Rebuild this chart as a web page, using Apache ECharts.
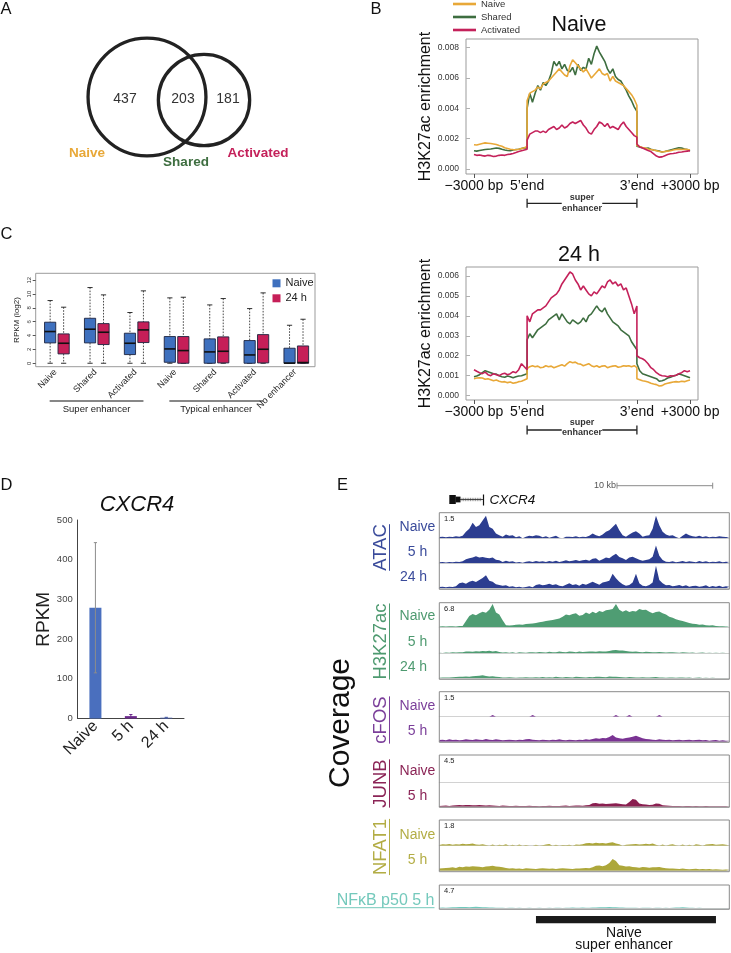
<!DOCTYPE html>
<html>
<head>
<meta charset="utf-8">
<script src="https://cdn.jsdelivr.net/npm/echarts@6/dist/echarts.min.js"></script>
<style>
html,body{margin:0;padding:0;background:#ffffff;}
#chart{width:731px;height:953px;}
</style>
</head>
<body>
<div id="chart"></div>
<script>
// ================= DATA =================
// Panel A – Venn
const vennSets = ['Naive', 'Shared', 'Activated'];
const vennCounts = [437, 203, 181];

// Panel B – H3K27ac metaprofiles; each series: [5' flank, super-enhancer body, 3' flank]
const bSeriesNames = ['Naive', 'Shared', 'Activated'];
const bTickLabels = ['\u22123000 bp', '5\u2019end', '3\u2019end', '+3000 bp'];
const bTopNaive = [
  [0.00160,0.00158,0.00163,0.00168,0.00172,0.00170,0.00168,0.00165,0.00162,0.00155,0.00150,0.00140,0.00135,0.00130,0.00128,0.00127,0.00130,0.00135,0.00140,0.00148],
  [0.0045,0.0050,0.0051,0.0052,0.0054,0.0053,0.0056,0.0057,0.0058,0.0060,0.0062,0.0064,0.0066,0.0064,0.0062,0.0061,0.0068,0.0072,0.0070,0.0068,0.0066,0.0064,0.0066,0.0063,0.0060,0.0062,0.0064,0.0066,0.0063,0.0062,0.0063,0.0058,0.0061,0.0058,0.0057,0.0056,0.0055,0.0053,0.0051,0.0049,0.0046,0.0042],
  [0.00155,0.00148,0.00142,0.00138,0.00132,0.00128,0.00125,0.00120,0.00115,0.00112,0.00115,0.00118,0.00120,0.00125,0.00128,0.00130,0.00128,0.00130,0.00128,0.00125]
];
const bTopShared = [
  [0.00120,0.00118,0.00122,0.00125,0.00128,0.00130,0.00132,0.00135,0.00138,0.00136,0.00130,0.00125,0.00122,0.00120,0.00125,0.00128,0.00130,0.00135,0.00140,0.00138],
  [0.0040,0.0050,0.0044,0.0050,0.0055,0.0052,0.0057,0.0055,0.0058,0.0063,0.0071,0.0068,0.0071,0.0066,0.0069,0.0065,0.0064,0.0067,0.0062,0.0069,0.0065,0.0067,0.0066,0.0073,0.0069,0.0076,0.0081,0.0077,0.0074,0.0071,0.0066,0.0063,0.0066,0.0061,0.0059,0.0058,0.0055,0.0052,0.0048,0.0045,0.0041,0.0038],
  [0.00150,0.00145,0.00140,0.00135,0.00138,0.00130,0.00125,0.00122,0.00118,0.00112,0.00115,0.00120,0.00125,0.00130,0.00135,0.00140,0.00138,0.00132,0.00128,0.00120]
];
const bTopActivated = [
  [0.00095,0.00090,0.00092,0.00088,0.00085,0.00090,0.00088,0.00082,0.00085,0.00090,0.00092,0.00090,0.00095,0.00098,0.00102,0.00108,0.00115,0.00120,0.00125,0.00130],
  [0.0019,0.0023,0.0024,0.0025,0.0025,0.0024,0.0025,0.0024,0.0026,0.0027,0.0028,0.0026,0.0027,0.0029,0.0027,0.0028,0.0030,0.0031,0.0030,0.0031,0.0032,0.0029,0.0027,0.0024,0.0023,0.0026,0.0028,0.0031,0.0030,0.0028,0.0030,0.0027,0.0028,0.0027,0.0026,0.0029,0.0031,0.0028,0.0026,0.0024,0.0022,0.0021],
  [0.00165,0.00145,0.00138,0.00130,0.00122,0.00115,0.00100,0.00085,0.00078,0.00080,0.00088,0.00095,0.00100,0.00102,0.00105,0.00110,0.00112,0.00115,0.00118,0.00120]
];
const bBotNaive = [
  [0.00085,0.00088,0.00090,0.00088,0.00082,0.00085,0.00080,0.00075,0.00078,0.00072,0.00068,0.00070,0.00065,0.00068,0.00062,0.00065,0.00070,0.00072,0.00078,0.00085],
  [0.00135,0.00145,0.00150,0.00145,0.00148,0.00140,0.00142,0.00150,0.00145,0.00148,0.00140,0.00145,0.00150,0.00155,0.00148,0.00160,0.00170,0.00165,0.00168,0.00160,0.00158,0.00150,0.00155,0.00160,0.00150,0.00145,0.00150,0.00142,0.00148,0.00150,0.00140,0.00145,0.00148,0.00150,0.00142,0.00145,0.00150,0.00148,0.00150,0.00145,0.00150,0.00140],
  [0.00085,0.00080,0.00075,0.00072,0.00068,0.00062,0.00058,0.00055,0.00048,0.00050,0.00058,0.00062,0.00065,0.00068,0.00070,0.00068,0.00072,0.00070,0.00075,0.00078]
];
const bBotShared = [
  [0.00095,0.00098,0.00105,0.00115,0.00125,0.00120,0.00115,0.00110,0.00108,0.00100,0.00095,0.00092,0.00098,0.00095,0.00090,0.00095,0.00098,0.00100,0.00105,0.00110],
  [0.0028,0.0031,0.0029,0.0031,0.0033,0.0034,0.0035,0.0036,0.0038,0.0039,0.0040,0.0041,0.0038,0.0041,0.0039,0.0037,0.0036,0.0038,0.0037,0.0036,0.0037,0.0039,0.0037,0.0040,0.0041,0.0043,0.0045,0.0043,0.0042,0.0044,0.0041,0.0039,0.0037,0.0036,0.0035,0.0033,0.0032,0.0031,0.0030,0.0027,0.0025,0.0023],
  [0.00160,0.00125,0.00110,0.00105,0.00100,0.00095,0.00090,0.00085,0.00072,0.00075,0.00080,0.00088,0.00092,0.00098,0.00102,0.00108,0.00105,0.00100,0.00095,0.00090]
];
const bBotActivated = [
  [0.00130,0.00122,0.00115,0.00110,0.00118,0.00105,0.00100,0.00110,0.00105,0.00100,0.00108,0.00112,0.00105,0.00110,0.00120,0.00115,0.00130,0.00160,0.00145,0.00130],
  [0.0040,0.0037,0.0041,0.0042,0.0043,0.0043,0.0044,0.0045,0.0047,0.0049,0.0050,0.0051,0.0053,0.0056,0.0058,0.0060,0.0062,0.0061,0.0058,0.0056,0.0053,0.0055,0.0053,0.0051,0.0050,0.0052,0.0051,0.0053,0.0055,0.0054,0.0057,0.0058,0.0056,0.0057,0.0055,0.0056,0.0053,0.0054,0.0050,0.0046,0.0041,0.0045],
  [0.00200,0.00190,0.00185,0.00175,0.00160,0.00140,0.00130,0.00115,0.00105,0.00100,0.00098,0.00095,0.00100,0.00098,0.00102,0.00110,0.00115,0.00125,0.00120,0.00125]
];

// Panel C – boxplots [min, Q1, median, Q3, max] of RPKM (log2)
const cCategories = ['Naive', 'Shared', 'Activated', 'Naive', 'Shared', 'Activated', 'No enhancer'];
const cGroupLabels = ['Super enhancer', 'Typical enhancer'];
const cSeriesNames = ['Naive', '24 h'];
const cBoxNaive = [[0,2.94,4.58,5.93,9.06],[0,2.94,4.92,6.50,10.94],[0,1.25,2.89,4.34,7.33],[0,0.14,2.07,3.86,9.45],[0,0,1.64,3.52,8.43],[0,0,1.20,3.28,7.90],[0,0,0.02,2.17,5.49]];
const cBox24h  = [[0,1.35,2.89,4.24,8.10],[0,2.70,4.48,5.73,9.88],[0,2.99,4.82,5.98,10.46],[0,0,1.83,3.86,9.54],[0,0.05,1.73,3.81,9.35],[0,0.05,2.02,4.14,10.17],[0,0,0.10,2.50,6.36]];
const cYTicks = [0, 2, 4, 6, 8, 10, 12];

// Panel D – CXCR4 RPKM
const dCategories = ['Naive', '5 h', '24 h'];
const dRpkm = [279, 6, 2];
const dRpkmErr = [164, 4, 1];

// Panel E – coverage tracks (88 bins across the locus)
const atacNaive = [0.08,0.10,0.06,0.10,0.08,0.12,0.10,0.16,0.39,0.58,0.94,0.68,0.78,1.07,1.36,0.68,0.58,0.29,0.19,0.10,0.23,0.16,0.19,0.06,0.12,0,0.10,0.16,0.12,0.19,0.16,0.06,0.12,0.04,0.10,0.16,0.04,0,0.10,0.10,0.08,0.12,0.06,0.10,0.08,0.16,0.29,0.19,0.12,0.23,0.39,0.49,0.68,0.88,0.49,0.19,0.10,0.23,0.35,0.43,0.29,0.10,0.16,0.19,0.58,1.36,0.78,0.39,0.23,0.16,0.19,0.08,0,0.16,0.29,0.19,0.12,0.10,0.16,0.08,0.12,0.06,0.10,0.08,0.12,0.10,0.08,0.06];
const atac5h = [0.06,0.08,0.05,0.08,0.06,0.10,0.08,0.12,0.25,0.30,0.35,0.42,0.35,0.38,0.33,0.30,0.35,0.22,0.18,0.08,0.15,0.10,0.12,0.05,0.08,0.04,0.10,0.12,0.08,0.14,0.10,0.12,0.08,0.14,0.10,0.16,0.08,0.12,0.18,0.12,0.15,0.20,0.14,0.18,0.22,0.16,0.28,0.30,0.15,0.25,0.35,0.30,0.45,0.58,0.38,0.30,0.20,0.35,0.40,0.30,0.22,0.15,0.20,0.25,0.40,1.07,0.45,0.20,0.10,0.08,0.12,0.06,0.10,0.14,0.08,0.12,0.10,0.06,0.14,0.08,0.12,0.06,0.10,0.08,0.12,0.06,0.10,0.08];
const atac24h = [0.08,0.10,0.06,0.10,0.08,0.12,0.30,0.35,0.28,0.40,0.45,0.38,0.50,0.62,0.78,0.45,0.40,0.25,0.20,0.15,0.18,0.10,0.12,0.06,0.10,0.05,0.08,0.12,0.06,0.20,0.25,0.18,0.22,0.28,0.20,0.25,0.15,0.12,0.22,0.30,0.20,0.25,0.15,0.28,0.22,0.30,0.40,0.30,0.22,0.35,0.40,0.45,0.88,0.60,0.40,0.25,0.15,0.20,0.35,0.88,0.30,0.15,0.12,0.20,0.35,1.36,0.50,0.30,0.18,0.20,0.12,0.15,0.20,0.12,0.18,0.10,0.14,0.16,0.10,0.12,0.18,0.08,0.14,0.10,0.16,0.08,0.12,0.10];
const h3k27Naive = [0.25,0.30,0.25,0.28,0.30,0.25,0.35,0.40,1.8,3.2,3.8,3.4,4.0,4.4,4.1,5.0,6.6,4.2,3.6,2.0,0.6,0.5,0.6,0.7,0.8,0.7,0.9,1.0,1.1,1.2,1.4,1.6,1.8,1.9,2.1,2.3,2.5,3.0,3.6,3.4,3.8,4.0,3.3,3.5,4.2,3.8,4.4,4.0,4.6,4.3,4.8,5.0,5.2,6.6,5.0,4.4,4.8,4.3,4.6,4.5,5.2,4.9,5.0,4.4,4.0,4.3,4.5,4.0,3.6,3.0,2.7,2.3,2.0,1.8,1.5,1.2,1.0,0.9,0.7,0.8,0.6,0.5,0.6,0.4,0.3,0.3,0.25,0.2];
const h3k27_5h = [0.15,0.10,0.20,0.15,0.25,0.20,0.30,0.25,0.45,0.50,0.40,0.55,0.50,0.60,0.55,0.65,0.50,0.60,0.35,0.20,0.25,0.15,0.30,0.10,0.25,0.20,0.15,0.30,0.25,0.20,0.35,0.30,0.20,0.40,0.30,0.25,0.45,0.35,0.30,0.50,0.40,0.30,0.45,0.35,0.40,0.50,0.45,0.40,0.55,0.50,0.45,0.60,0.80,0.85,0.75,0.70,0.60,0.50,0.40,0.45,0.35,0.30,0.40,0.35,0.30,0.25,0.35,0.30,0.20,0.25,0.30,0.20,0.15,0.25,0.20,0.15,0.20,0.10,0.15,0.20,0.10,0.15,0.10,0.12,0.10,0.15,0.10,0.08];
const h3k27_24h = [0.15,0.20,0.25,0.20,0.30,0.35,0.40,0.45,0.50,0.45,0.55,0.60,0.70,0.80,0.60,0.50,0.55,0.40,0.35,0.25,0.20,0.30,0.25,0.15,0.20,0.25,0.30,0.20,0.25,0.30,0.20,0.35,0.25,0.30,0.20,0.40,0.30,0.25,0.35,0.30,0.25,0.40,0.35,0.30,0.25,0.35,0.30,0.40,0.45,0.35,0.30,0.50,0.45,0.40,0.35,0.30,0.25,0.35,0.30,0.25,0.20,0.30,0.25,0.20,0.30,0.35,0.25,0.20,0.15,0.25,0.20,0.15,0.20,0.25,0.15,0.20,0.10,0.15,0.20,0.10,0.15,0.10,0.12,0.10,0.08,0.10,0.08,0.06];
const cfosNaive = [0,0,0,0,0,0,0,0,0,0,0,0,0,0,0,0,0.1,0,0,0,0,0,0,0,0,0,0,0,0.1,0,0,0,0,0,0,0,0,0,0,0,0,0,0,0,0,0,0,0,0,0,0,0,0,0.1,0,0,0,0.1,0,0,0,0,0,0,0,0,0.1,0,0,0,0,0,0,0,0,0,0,0,0,0,0,0,0,0,0,0,0,0];
const cfos5h = [0.10,0.12,0.08,0.14,0.10,0.12,0.08,0.10,0.14,0.12,0.10,0.14,0.12,0.10,0.16,0.12,0.10,0.14,0.12,0.08,0.10,0.12,0.10,0.08,0.12,0.10,0.14,0.16,0.12,0.10,0.08,0.12,0.10,0.08,0.12,0.10,0.14,0.10,0.08,0.12,0.10,0.08,0.12,0.10,0.14,0.12,0.16,0.20,0.18,0.22,0.20,0.28,0.40,0.25,0.20,0.18,0.22,0.25,0.30,0.36,0.28,0.20,0.16,0.14,0.12,0.10,0.14,0.12,0.10,0.12,0.08,0.10,0.12,0.08,0.10,0.12,0.08,0.10,0.12,0.08,0.10,0.06,0.08,0.10,0.06,0.08,0.06,0.05];
const junbNaive = [0,0,0,0,0,0,0,0,0,0,0,0,0,0,0,0,0,0,0,0,0,0,0,0,0,0,0,0,0,0,0,0,0,0,0,0,0,0,0,0,0,0,0,0,0,0,0,0,0,0,0,0,0,0,0,0,0,0,0,0,0,0,0,0,0,0,0,0,0,0,0,0,0,0,0,0,0,0,0,0,0,0,0,0,0,0,0,0];
const junb5h = [0.15,0.18,0.20,0.15,0.22,0.25,0.30,0.28,0.32,0.30,0.28,0.25,0.30,0.28,0.22,0.25,0.20,0.18,0.15,0.20,0.18,0.15,0.12,0.18,0.15,0.12,0.15,0.18,0.12,0.15,0.10,0.15,0.12,0.18,0.15,0.12,0.15,0.18,0.20,0.15,0.18,0.20,0.22,0.18,0.25,0.30,0.65,0.70,0.55,0.60,0.50,0.55,0.60,0.65,0.55,0.45,0.40,0.85,1.40,1.30,0.60,0.45,0.40,0.30,0.35,0.60,0.55,0.25,0.20,0.18,0.15,0.12,0.15,0.10,0.12,0.15,0.10,0.12,0.08,0.10,0.12,0.08,0.10,0.08,0.06,0.08,0.06,0.05];
const nfatNaive = [0.05,0.10,0.08,0.12,0.06,0.10,0.08,0.14,0.10,0.12,0.16,0.08,0.06,0.10,0.05,0.00,0.08,0.00,0.06,0.04,0.10,0.00,0.06,0.00,0.08,0.00,0.05,0.00,0.00,0.06,0.00,0.04,0.08,0.12,0.00,0.06,0.00,0.05,0.04,0.06,0.00,0.08,0.06,0.10,0.18,0.20,0.16,0.22,0.18,0.20,0.16,0.22,0.24,0.16,0.10,0.00,0.06,0.08,0.10,0.12,0.08,0.10,0.14,0.10,0.16,0.06,0.00,0.08,0.00,0.06,0.10,0.04,0.00,0.08,0.00,0.06,0.00,0.10,0.06,0.00,0.08,0.10,0.12,0.06,0.08,0.10,0.06,0.04];
const nfat5h = [0.15,0.18,0.20,0.22,0.25,0.20,0.28,0.25,0.30,0.28,0.32,0.30,0.28,0.25,0.30,0.32,0.36,0.30,0.28,0.25,0.20,0.16,0.18,0.14,0.16,0.12,0.18,0.15,0.14,0.12,0.16,0.18,0.15,0.14,0.16,0.12,0.15,0.18,0.16,0.14,0.12,0.16,0.15,0.18,0.20,0.18,0.24,0.35,0.38,0.32,0.40,0.55,0.84,0.70,0.40,0.35,0.30,0.32,0.26,0.24,0.22,0.26,0.24,0.22,0.25,0.24,0.26,0.22,0.18,0.16,0.15,0.14,0.12,0.15,0.12,0.10,0.12,0.14,0.10,0.12,0.10,0.12,0.08,0.10,0.08,0.06,0.08,0.06];
const nfkb5h = [0.10,0.15,0.12,0.18,0.20,0.22,0.25,0.28,0.25,0.22,0.28,0.30,0.25,0.22,0.20,0.18,0.15,0.12,0.10,0.12,0.08,0.10,0.12,0.08,0.10,0.06,0.08,0.10,0.06,0.08,0.10,0.08,0.06,0.10,0.08,0.12,0.10,0.08,0.12,0.10,0.14,0.12,0.10,0.14,0.12,0.10,0.15,0.18,0.20,0.22,0.20,0.25,0.22,0.20,0.18,0.15,0.12,0.10,0.12,0.10,0.08,0.10,0.12,0.10,0.08,0.10,0.12,0.08,0.10,0.08,0.12,0.15,0.18,0.20,0.15,0.12,0.10,0.08,0.10,0.06,0.08,0.06,0.05,0.06,0.05,0.04,0.05,0.04];
const eTrackNames = ['ATAC', 'H3K27ac', 'cFOS', 'JUNB', 'NFAT1', 'NF\u03baB p50 5 h'];
const eTrackScales = [1.5, 6.8, 1.5, 4.5, 1.8, 4.7];
const eSuperEnhancerBins = [29, 83];

// ================= STYLE / LAYOUT =================
const FONT = '"Liberation Sans", Arial, Helvetica, sans-serif';
const B_COLORS = ['#E8A838', '#3E6E40', '#C4215A'];
const C_COLORS = ['#3E70BE', '#C61F58'];
const D_COLORS = ['#4A6FBE', '#6C2A8C', '#4B5EA6'];
const D_ERR_COLORS = ['#8c8c8c', '#6C2A8C', '#4B5EA6'];
const SE_LEN = 6200;

const grid = [], xAxis = [], yAxis = [], series = [];

// ---- Panel B ----
const bTickValues = [-3000, 0, SE_LEN, SE_LEN + 3000];
function bPoints(segs) {
  const out = [];
  segs.forEach((seg, si) => {
    const n = seg.length;
    seg.forEach((v, i) => {
      let x;
      if (si === 0) x = -3000 + 3000 * i / (n - 1);
      else if (si === 1) x = SE_LEN * i / (n - 1);
      else x = SE_LEN + 3000 * i / (n - 1);
      out.push([x, v]);
    });
  });
  return out;
}
const bPanels = [
  {title: 'Naive', top: 39, height: 135, yMin: -0.00033, yMax: 0.00857, ticks: [0, 0.002, 0.004, 0.006, 0.008], lines: [bTopNaive, bTopShared, bTopActivated], titleY: 25, brY: 203.3, superY: 197.7, enhY: 209},
  {title: '24 h', top: 267, height: 133, yMin: -0.00022, yMax: 0.00645, ticks: [0, 0.001, 0.002, 0.003, 0.004, 0.005, 0.006], lines: [bBotNaive, bBotShared, bBotActivated], titleY: 255, brY: 430, superY: 423, enhY: 432.5}
];
bPanels.forEach(p => {
  const gi = grid.length;
  p.gi = gi;
  grid.push({left: 466, top: p.top, width: 232, height: p.height, show: true, borderColor: '#9b9b9b', borderWidth: 1, backgroundColor: 'transparent'});
  xAxis.push({gridIndex: gi, type: 'value', min: -3450, max: SE_LEN + 3450, axisLine: {show: false, onZero: false}, splitLine: {show: false},
    axisTick: {show: true, customValues: bTickValues, length: 4, lineStyle: {color: '#555'}},
    axisLabel: {customValues: bTickValues, formatter: v => bTickLabels[bTickValues.indexOf(v)], fontSize: 14, color: '#111', margin: 5, fontFamily: FONT}});
  yAxis.push({gridIndex: gi, type: 'value', min: p.yMin, max: p.yMax, axisLine: {show: false, onZero: false}, splitLine: {show: false},
    axisTick: {show: true, inside: true, length: 4, customValues: p.ticks, lineStyle: {color: '#b0b0b0'}},
    axisLabel: {customValues: p.ticks, formatter: v => v.toFixed(3), fontSize: 8.5, color: '#333', margin: 7, fontFamily: FONT},
    name: 'H3K27ac enrichment', nameLocation: 'middle', nameGap: 28, nameTextStyle: {fontSize: 16, color: '#111', fontFamily: FONT}});
  [1, 0, 2].forEach(k => {
    series.push({type: 'line', name: bSeriesNames[k], xAxisIndex: gi, yAxisIndex: gi, data: bPoints(p.lines[k]), symbol: 'none', silent: true,
      lineStyle: {width: 1.6, color: B_COLORS[k]}, itemStyle: {color: B_COLORS[k]}});
  });
});

// ---- Panel C ----
const cGi = grid.length;
grid.push({left: 35.7, top: 273.3, width: 279.3, height: 93.4, show: true, borderColor: '#9b9b9b', borderWidth: 1, backgroundColor: 'transparent'});
xAxis.push({gridIndex: cGi, type: 'category', data: cCategories, axisLine: {show: false, onZero: false}, axisTick: {show: false},
  axisLabel: {interval: 0, rotate: 45, fontSize: 9, color: '#222', margin: 4, fontFamily: FONT}});
yAxis.push({gridIndex: cGi, type: 'value', min: -0.5, max: 13, axisLine: {show: false, onZero: false}, splitLine: {show: false},
  axisTick: {show: true, length: 3, customValues: cYTicks, lineStyle: {color: '#555'}},
  axisLabel: {customValues: cYTicks, rotate: 90, fontSize: 6, color: '#333', margin: 3, fontFamily: FONT},
  name: 'RPKM (log2)', nameLocation: 'middle', nameGap: 15, nameTextStyle: {fontSize: 8, color: '#222', fontFamily: FONT}});
function boxRenderer(offsetFrac) {
  return function (params, api) {
    const idx = api.value(0);
    const bw = api.size([1, 0])[0];
    const cx = api.coord([idx, 0])[0] + offsetFrac * bw;
    const y = k => api.coord([idx, api.value(k)])[1];
    const yMin = y(1), yQ1 = y(2), yMed = y(3), yQ3 = y(4), yMax = y(5);
    const half = 5.6, cap = 2.6;
    const wh = {stroke: '#1a1a1a', lineWidth: 0.8, lineDash: [1.6, 1.4]};
    const cp = {stroke: '#1a1a1a', lineWidth: 0.9};
    return {type: 'group', children: [
      {type: 'line', shape: {x1: cx, y1: yMax, x2: cx, y2: yQ3}, style: wh},
      {type: 'line', shape: {x1: cx, y1: yQ1, x2: cx, y2: yMin}, style: wh},
      {type: 'line', shape: {x1: cx - cap, y1: yMax, x2: cx + cap, y2: yMax}, style: cp},
      {type: 'line', shape: {x1: cx - cap, y1: yMin, x2: cx + cap, y2: yMin}, style: cp},
      {type: 'rect', shape: {x: cx - half, y: yQ3, width: 2 * half, height: Math.max(yQ1 - yQ3, 0.5)}, style: {fill: api.visual('color'), stroke: '#1d2440', lineWidth: 0.9}},
      {type: 'line', shape: {x1: cx - half, y1: yMed, x2: cx + half, y2: yMed}, style: {stroke: '#111', lineWidth: 1.6}}
    ]};
  };
}
[cBoxNaive, cBox24h].forEach((boxes, k) => {
  series.push({type: 'custom', name: cSeriesNames[k], xAxisIndex: cGi, yAxisIndex: cGi, silent: true,
    itemStyle: {color: C_COLORS[k]}, encode: {x: 0, y: [1, 2, 3, 4, 5]},
    data: boxes.map((b, i) => [i].concat(b)), renderItem: boxRenderer(k === 0 ? -0.138 : 0.2)});
});

// ---- Panel D ----
const dGi = grid.length;
grid.push({left: 77.7, top: 520, width: 106.3, height: 198.5});
xAxis.push({gridIndex: dGi, type: 'category', data: dCategories, axisLine: {show: true, onZero: false, lineStyle: {color: '#444', width: 1}}, axisTick: {show: false},
  axisLabel: {interval: 0, rotate: 45, fontSize: 16, color: '#222', margin: 5, fontFamily: FONT}});
yAxis.push({gridIndex: dGi, type: 'value', min: 0, max: 500, interval: 100, axisLine: {show: true, onZero: false, lineStyle: {color: '#444', width: 1}}, axisTick: {show: false}, splitLine: {show: false},
  axisLabel: {fontSize: 9.5, color: '#444', margin: 5, fontFamily: FONT},
  name: 'RPKM', nameLocation: 'middle', nameGap: 24, nameTextStyle: {fontSize: 19, color: '#222', fontFamily: FONT}});
series.push({type: 'bar', name: 'RPKM', xAxisIndex: dGi, yAxisIndex: dGi, data: dRpkm, barWidth: 12, silent: true,
  itemStyle: {color: p => D_COLORS[p.dataIndex]}});
series.push({type: 'custom', name: 'RPKM error', xAxisIndex: dGi, yAxisIndex: dGi, silent: true, z: 5, encode: {x: 0, y: [1, 2]},
  data: dRpkm.map((m, i) => [i, Math.max(0, m - dRpkmErr[i]), m + dRpkmErr[i]]),
  renderItem: (params, api) => {
    const i = api.value(0);
    const x = api.coord([i, 0])[0];
    const y1 = api.coord([i, api.value(1)])[1];
    const y2 = api.coord([i, api.value(2)])[1];
    const st = {stroke: D_ERR_COLORS[i], lineWidth: 1};
    return {type: 'group', children: [
      {type: 'line', shape: {x1: x, y1: y1, x2: x, y2: y2}, style: st},
      {type: 'line', shape: {x1: x - 1.6, y1: y2, x2: x + 1.6, y2: y2}, style: st},
      {type: 'line', shape: {x1: x - 1.6, y1: y1, x2: x + 1.6, y2: y1}, style: st}
    ]};
  }});

// ---- Panel E ----
const eStyles = [
  {color: '#2C3D90', label: '#3A4B9B'},
  {color: '#4F9D73', label: '#4E9A70'},
  {color: '#7A3393', label: '#7B3F9A'},
  {color: '#8A1F50', label: '#8B2456'},
  {color: '#ADA73A', label: '#B3AD45'},
  {color: '#6FC9BC', label: '#74C9BC'}
];
const eRows = [
  [['Naive', atacNaive], ['5 h', atac5h], ['24 h', atac24h]],
  [['Naive', h3k27Naive], ['5 h', h3k27_5h], ['24 h', h3k27_24h]],
  [['Naive', cfosNaive], ['5 h', cfos5h]],
  [['Naive', junbNaive], ['5 h', junb5h]],
  [['Naive', nfatNaive], ['5 h', nfat5h]],
  [['', nfkb5h]]
];
const eLayout = [
  {boxTop: 512.7, boxBottom: 589.3, bases: [538.3, 563.3, 588.3], nameY: 547.5},
  {boxTop: 602.7, boxBottom: 679.3, bases: [627.3, 653.3, 678.3], nameY: 641.5},
  {boxTop: 691.7, boxBottom: 742.3, bases: [716.7, 741.7], nameY: 720},
  {boxTop: 755, boxBottom: 807.3, bases: [782.3, 806.7], nameY: 783.5},
  {boxTop: 820, boxBottom: 871.7, bases: [845.7, 870.7], nameY: 847},
  {boxTop: 885, boxBottom: 909.3, bases: [908.3], nameY: 900.7}
];
const E_LEFT = 439.3, E_WIDTH = 290;
let lastTrackAxis = 0;
eRows.forEach((rows, t) => {
  const L = eLayout[t];
  rows.forEach((row, r) => {
    const top = r === 0 ? L.boxTop + 0.6 : L.bases[r - 1];
    const h = L.bases[r] - top;
    const gi = grid.length;
    grid.push({left: E_LEFT, top: top, width: E_WIDTH, height: h});
    xAxis.push({gridIndex: gi, type: 'category', boundaryGap: false, data: row[1].map((v, i) => String(i)),
      axisLine: {show: true, onZero: false, lineStyle: {color: '#d2d2d2', width: 1}}, axisTick: {show: false}, axisLabel: {show: false}, splitLine: {show: false}});
    yAxis.push({gridIndex: gi, type: 'value', min: 0, max: eTrackScales[t], show: false});
    series.push({type: 'line', name: eTrackNames[t] + ' ' + row[0], xAxisIndex: gi, yAxisIndex: gi, data: row[1], symbol: 'none', silent: true,
      lineStyle: {width: 0, opacity: 0, color: eStyles[t].color}, areaStyle: {color: eStyles[t].color, opacity: 1}, itemStyle: {color: eStyles[t].color}});
    lastTrackAxis = gi;
  });
});

// ================= OPTION =================
const option = {
  animation: false,
  backgroundColor: '#ffffff',
  textStyle: {fontFamily: FONT},
  grid, xAxis, yAxis, series,
  legend: [
    {data: bSeriesNames.map((n, i) => ({name: n, itemStyle: {color: B_COLORS[i], borderWidth: 0}})),
     orient: 'vertical', left: 453, top: -2.5, padding: 0, itemGap: 0, icon: 'rect', itemWidth: 23, itemHeight: 2.6, selectedMode: false,
     textStyle: {fontSize: 9.5, lineHeight: 13, color: '#333', fontFamily: FONT}},
    {data: cSeriesNames.map((n, i) => ({name: n, itemStyle: {color: C_COLORS[i], borderWidth: 0}})),
     orient: 'vertical', left: 272.5, top: 276.3, padding: 0, itemGap: 1, icon: 'rect', itemWidth: 8, itemHeight: 8, selectedMode: false,
     textStyle: {fontSize: 11, lineHeight: 14, color: '#222', fontFamily: FONT}}
  ]
};

const chart = echarts.init(document.getElementById('chart'), null, {width: 731, height: 953, renderer: 'canvas'});
chart.setOption(option);

// ================= ANNOTATIONS =================
const graphic = [];
function txt(text, x, y, size, color, extra) {
  extra = extra || {};
  graphic.push({type: 'text', x: x, y: y, rotation: extra.rot || 0, silent: true, z: 10,
    style: {text: text, fontFamily: FONT, fontSize: size, fill: color, align: extra.align || 'center', verticalAlign: extra.va || 'middle',
      fontWeight: extra.weight || 'normal', fontStyle: extra.style || 'normal'}});
}
function ln(x1, y1, x2, y2, color, w) {
  graphic.push({type: 'line', silent: true, z: 10, shape: {x1, y1, x2, y2}, style: {stroke: color, lineWidth: w || 1}});
}
function rc(x, y, w, h, fill, stroke, lw) {
  graphic.push({type: 'rect', silent: true, z: 10, shape: {x, y, width: w, height: h}, style: {fill: fill || 'none', stroke: stroke || 'none', lineWidth: lw || 1}});
}
const measureCtx = document.createElement('canvas').getContext('2d');
function textWidth(t, size) { measureCtx.font = size + 'px ' + FONT; return measureCtx.measureText(t).width; }

// panel letters
txt('A', 0.5, 9.5, 16.5, '#111', {align: 'left'});
txt('B', 370.5, 9.5, 16.5, '#111', {align: 'left'});
txt('C', 0.5, 234.5, 16.5, '#111', {align: 'left'});
txt('D', 0.5, 485, 16.5, '#111', {align: 'left'});
txt('E', 337, 485, 16.5, '#111', {align: 'left'});

// Panel A – Venn (area-proportional radii)
const vennK = 2.33;
const r1 = vennK * Math.sqrt(vennCounts[0] + vennCounts[1]);
const r2 = vennK * Math.sqrt(vennCounts[1] + vennCounts[2]);
graphic.push({type: 'circle', silent: true, shape: {cx: 147, cy: 97, r: r1}, style: {fill: 'none', stroke: '#222', lineWidth: 3.3}});
graphic.push({type: 'circle', silent: true, shape: {cx: 204, cy: 100, r: r2}, style: {fill: 'none', stroke: '#222', lineWidth: 3.3}});
txt(String(vennCounts[0]), 125, 99.5, 14, '#333');
txt(String(vennCounts[1]), 183, 99.5, 14, '#333');
txt(String(vennCounts[2]), 228, 99.5, 14, '#333');
txt(vennSets[0], 87, 153.5, 13.5, '#E8A838', {weight: 'bold'});
txt(vennSets[1], 186, 162.5, 13.5, '#3E6E40', {weight: 'bold'});
txt(vennSets[2], 258, 153.5, 13.5, '#C4215A', {weight: 'bold'});

// Panel B – titles and super-enhancer brackets
bPanels.forEach(p => {
  txt(p.title, 579, p.titleY, 21.5, '#111');
  const x0 = chart.convertToPixel({xAxisIndex: p.gi}, 0);
  const x1 = chart.convertToPixel({xAxisIndex: p.gi}, SE_LEN);
  const xc = (x0 + x1) / 2;
  const gap = textWidth('enhancer', 9) / 2 + 1.5;
  ln(x0, p.brY, xc - gap, p.brY, '#222', 1.3);
  ln(xc + gap, p.brY, x1, p.brY, '#222', 1.3);
  ln(x0, p.brY - 4.5, x0, p.brY + 4.5, '#222', 1.3);
  ln(x1, p.brY - 4.5, x1, p.brY + 4.5, '#222', 1.3);
  txt('super', xc, p.superY, 9, '#333', {weight: 'bold'});
  txt('enhancer', xc, p.enhY, 9, '#333', {weight: 'bold'});
});

// Panel C – group underlines
const cPx = i => chart.convertToPixel({xAxisIndex: cGi}, i);
[[0, 2], [3, 5]].forEach((g, k) => {
  const xa = cPx(g[0]) - 6, xb = cPx(g[1]) + 8;
  ln(xa, 401, xb, 401, '#111', 1.2);
  txt(cGroupLabels[k], (xa + xb) / 2, 409.5, 9.5, '#222');
});

// Panel D – title
txt('CXCR4', 137, 505, 22, '#111', {style: 'italic'});

// Panel E – annotations
txt('10 kb', 616, 485.7, 9, '#555', {align: 'right'});
ln(617, 485.7, 712.7, 485.7, '#8a8a8a', 1);
ln(617, 482.7, 617, 488.7, '#8a8a8a', 1);
ln(712.7, 482.7, 712.7, 488.7, '#8a8a8a', 1);
// gene model
rc(449.3, 495, 6.5, 9, '#111');
rc(455.5, 496.6, 5, 5.8, '#111');
ln(460, 499.5, 483, 499.5, '#222', 0.8);
for (let x = 462; x < 481; x += 1.7) ln(x, 497.8, x, 501.2, '#333', 0.5);
ln(483.5, 494.5, 483.5, 505.5, '#111', 1.2);
txt('CXCR4', 489.5, 500.5, 13.5, '#111', {align: 'left', style: 'italic'});
// boxes, scales, labels
const rowLabelX = {'Naive': 417.5, '5 h': 417.5, '24 h': 413.5};
eRows.forEach((rows, t) => {
  const L = eLayout[t];
  rc(E_LEFT, L.boxTop, E_WIDTH, L.boxBottom - L.boxTop, 'none', '#8a8a8a', 1);
  txt(String(eTrackScales[t]), 444, L.boxTop + 6.3, 7.5, '#222', {align: 'left'});
  const st = eStyles[t];
  if (t < 5) {
    rows.forEach((row, r) => txt(row[0], rowLabelX[row[0]], L.bases[r] - 11, 14, st.label));
    const name = eTrackNames[t];
    txt(name, 381, L.nameY, 18.5, st.label, {rot: Math.PI / 2});
    const w = textWidth(name, 18.5);
    ln(389.5, L.nameY - w / 2, 389.5, L.nameY + w / 2, st.label, 1);
  } else {
    const name = eTrackNames[t];
    const w = textWidth(name, 16);
    txt(name, 434.5, L.nameY, 16, st.label, {align: 'right'});
    ln(434.5 - w, L.nameY + 7, 434.5, L.nameY + 7, st.label, 1);
  }
});
txt('Coverage', 341, 723, 30, '#111', {rot: Math.PI / 2});
// naive super-enhancer bar
const seX0 = chart.convertToPixel({xAxisIndex: lastTrackAxis}, eSuperEnhancerBins[0]);
const seX1 = chart.convertToPixel({xAxisIndex: lastTrackAxis}, eSuperEnhancerBins[1]);
rc(seX0, 916, seX1 - seX0, 7.3, '#1a1a1a');
txt('Naive', (seX0 + seX1) / 2 - 2, 933.3, 14, '#111');
txt('super enhancer', (seX0 + seX1) / 2 - 2, 945, 14, '#111');

chart.setOption({graphic: graphic});
</script>
</body>
</html>
